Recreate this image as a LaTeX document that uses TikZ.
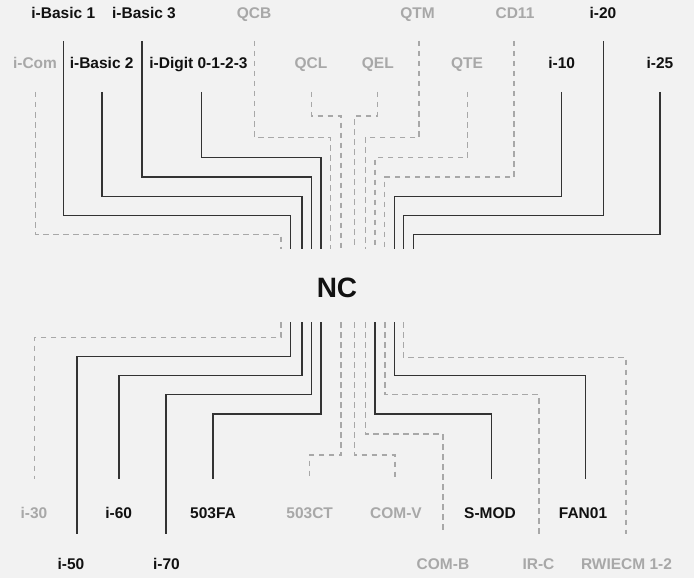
\documentclass[tikz,border=0pt]{standalone}
\usepackage{fontspec}
\setmainfont{Liberation Sans}
\definecolor{bg}{HTML}{F2F2F2}
\definecolor{dk}{HTML}{111111}
\definecolor{gr}{HTML}{A8A8A8}
\definecolor{ln}{HTML}{333333}
\tikzset{
  lab/.style={font=\fontsize{15.5}{18}\selectfont\bfseries, anchor=base, inner sep=0pt},
  blk/.style={lab, text=dk},
  gry/.style={lab, text=gr},
  sl/.style={draw=ln, line width=1.4pt},
  dl/.style={draw=gr, line width=1.2pt, dash pattern=on 5.5pt off 4.5pt},
}
\begin{document}
\begin{tikzpicture}[x=1pt,y=-1pt]
\useasboundingbox (0,0) rectangle (694,578);
\fill[bg] (0,0) rectangle (694,578);

% centre
\node[font=\fontsize{28}{32}\selectfont\bfseries, text=dk, anchor=base, inner sep=0pt] (nc) at (337,297) {NC};

% top labels row 1
\node[blk] (ib1) at (63.3,18.3) {i-Basic 1};
\node[blk] (ib3) at (144,18.3) {i-Basic 3};
\node[gry] (qcb) at (254,18.3) {QCB};
\node[gry] (qtm) at (417.5,18.3) {QTM};
\node[gry] (cd11) at (515,18.3) {CD11};
\node[blk] (i20) at (603,18.3) {i-20};
% top labels row 2
\node[gry] (icom) at (35,69) {i-Com};
\node[blk] (ib2) at (101.7,69) {i-Basic 2};
\node[blk] (idig) at (198.5,69) {i-Digit 0-1-2-3};
\node[gry] (qcl) at (311,69) {QCL};
\node[gry] (qel) at (377.8,69) {QEL};
\node[gry] (qte) at (467,69) {QTE};
\node[blk] (i10) at (561.7,69) {i-10};
\node[blk] (i25) at (660,69) {i-25};
% bottom labels row 1
\node[gry] (i30) at (34,518) {i-30};
\node[blk] (i60) at (118.7,518) {i-60};
\node[blk] (fa) at (213,518) {503FA};
\node[gry] (ct) at (309.7,518) {503CT};
\node[gry] (comv) at (396,518) {COM-V};
\node[blk] (smod) at (490,518) {S-MOD};
\node[blk] (fan) at (583,518) {FAN01};
% bottom labels row 2
\node[blk] (i50) at (71,569) {i-50};
\node[blk] (i70) at (166.5,569) {i-70};
\node[gry] (comb) at (443,569) {COM-B};
\node[gry] (irc) at (538.5,569) {IR-C};
\node[gry] (rw) at (626.5,569) {RWIECM 1-2};

% top connectors: name / label x / start y / horizontal y / fan x / style
\foreach \n/\sx/\sy/\hy/\fx/\st in {
  icom/35.7/92/234.5/281/dl,
  ib1/63.7/41/215.7/290.7/sl,
  ib2/102/92/196.7/302/sl,
  ib3/142/41/177/311.3/sl,
  idig/201.7/92/157.7/321/sl,
  qcb/254.7/41/137.3/330.7/dl,
  qcl/311.7/92/116/341/dl,
  qel/377.3/92/116/354.7/dl,
  qtm/419/41/137.3/365.3/dl,
  qte/467.3/92/157.7/375/dl,
  cd11/514/41/177/384.7/dl,
  i10/561.3/92/196.7/394.3/sl,
  i20/603.7/41/215.7/403.7/sl,
  i25/660/92/234.5/413.3/sl}{
  \coordinate (s-\n) at (\sx,\sy);
  \coordinate (e-\n) at (\fx,249.3);
  \draw[\st] (s-\n) |- (\fx,\hy) -- (e-\n);
}

% bottom connectors: name / fan x / horizontal y / label x / end y / style
\foreach \n/\fx/\hy/\lx/\ey/\st in {
  i30/281/337.3/34.7/479.3/dl,
  i50/290.7/356.3/77/534.3/sl,
  i60/302/375.3/119/479.3/sl,
  i70/311.3/394.7/166/534.3/sl,
  fa/321/414/213/479.3/sl,
  ct/341/455/309.5/479.3/dl,
  comv/354.7/455/395/479.3/dl,
  comb/365.3/434/443/534.3/dl,
  smod/375/414/491.7/479.3/sl,
  irc/385/394.7/539/534.3/dl,
  fan/394.3/375.3/585.7/479.3/sl,
  rw/403.7/357.5/626/534.3/dl}{
  \coordinate (b-\n) at (\fx,322);
  \coordinate (t-\n) at (\lx,\ey);
  \draw[\st] (b-\n) |- (\lx,\hy) -- (t-\n);
}
\end{tikzpicture}
\end{document}
